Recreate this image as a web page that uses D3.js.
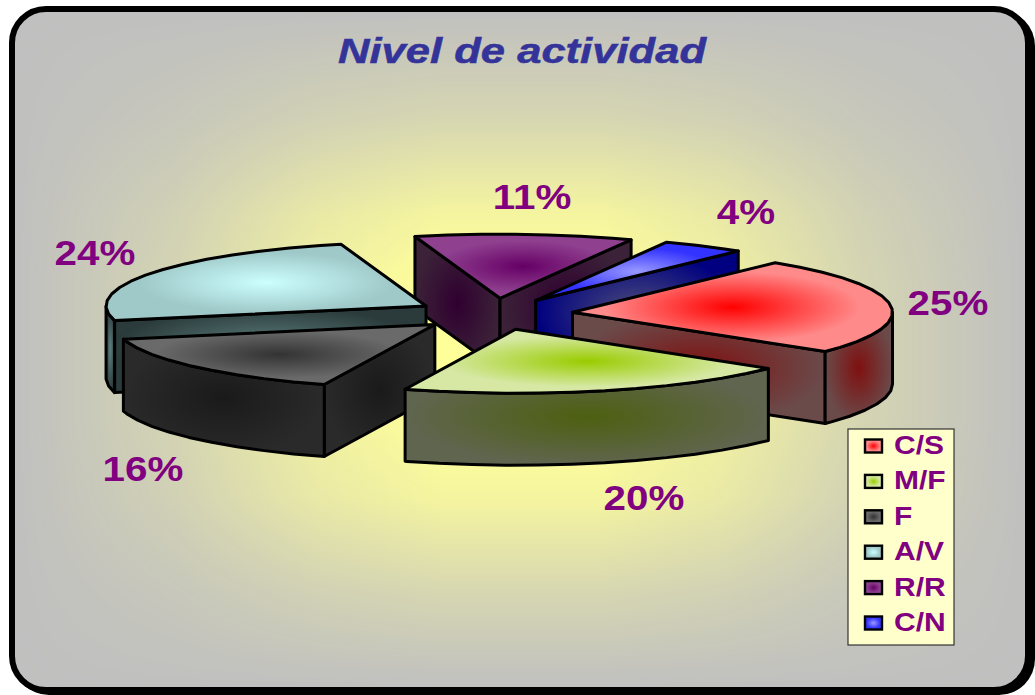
<!DOCTYPE html>
<html>
<head>
<meta charset="utf-8">
<script src="https://cdnjs.cloudflare.com/ajax/libs/d3/7.8.5/d3.min.js"></script>
<style>
  html, body { margin: 0; padding: 0; background: #fff; overflow: hidden; }
  svg { display: block; }
  text { font-family: "Liberation Sans", Arial, sans-serif; font-weight: 700; }
</style>
</head>
<body>
<div id="chart"></div>
<script>
// Chart data
const categories = ['C/S', 'M/F', 'F', 'A/V', 'R/R', 'C/N'];
const shares = [24.6, 20.1, 15.7, 24.4, 11.0, 4.2];
const chartTitle = 'Nivel de actividad';

// Face colours, same order as categories
const topCenter = ['#ff0000', '#99cc00', '#333333', '#ccffff', '#660066', '#9999ff'];
const topEdge = ['#ff8a8a', '#d6e8a4', '#6a6a6a', '#9fc8c8', '#8f408f', '#3333ff'];
const wallCenter = ['#7f1010', '#4d6010', '#1a1a1a', '#5f8080', '#300030', '#4d4d7a'];
const wallEdge = ['#6b4a4a', '#60654f', '#2a2a2a', '#2b3b3b', '#3b2238', '#000080'];

const W = 1035, H = 695;

// Pie geometry
const cx = 494, cy = 314;
const rx = 320, ry = 64;
const explode = 79;
const depth = 72;
const START = 39.3 * Math.PI / 180;

const svg = d3.select('#chart').append('svg')
  .attr('width', W)
  .attr('height', H)
  .attr('viewBox', [0, 0, W, H]);

const defs = svg.append('defs');

// Background: grey going to pale yellow in the middle
const bgH = defs.append('linearGradient').attr('id', 'bgH');
bgH.selectAll('stop')
  .data([[0, 0], [0.16, 0.33], [0.3, 0.78], [0.42, 1], [0.58, 1], [0.7, 0.78], [0.84, 0.33], [1, 0]])
  .enter().append('stop')
  .attr('offset', d => d[0])
  .attr('stop-color', '#ffff99')
  .attr('stop-opacity', d => d[1]);

const bgV = defs.append('linearGradient').attr('id', 'bgV')
  .attr('x1', 0).attr('y1', 0).attr('x2', 0).attr('y2', 1);
bgV.selectAll('stop')
  .data([[0, '#000'], [0.16, '#5c5c5c'], [0.3, '#d5d5d5'], [0.4, '#fff'], [0.6, '#fff'], [0.72, '#d5d5d5'], [0.86, '#5c5c5c'], [1, '#000']])
  .enter().append('stop')
  .attr('offset', d => d[0])
  .attr('stop-color', d => d[1]);

defs.append('mask').attr('id', 'bgMask')
  .attr('maskUnits', 'userSpaceOnUse')
  .attr('x', 0).attr('y', 0).attr('width', W).attr('height', H)
  .append('rect')
  .attr('x', 15).attr('y', 12).attr('width', 1010).attr('height', 675)
  .attr('fill', 'url(#bgV)');

// Shadow, frame and fill
svg.append('rect')
  .attr('x', 13).attr('y', 10).attr('width', 1022).attr('height', 685)
  .attr('rx', 36).attr('fill', '#000');
svg.append('rect')
  .attr('x', 12).attr('y', 9).attr('width', 1016).attr('height', 681)
  .attr('rx', 34).attr('fill', '#c0c0c0')
  .attr('stroke', '#000').attr('stroke-width', 6);
svg.append('rect')
  .attr('x', 15).attr('y', 12).attr('width', 1010).attr('height', 675)
  .attr('rx', 32).attr('fill', 'url(#bgH)')
  .attr('mask', 'url(#bgMask)');

// Face gradients
function addGradient(id, center, edge, r) {
  const grad = defs.append('radialGradient').attr('id', id)
    .attr('cx', '50%').attr('cy', '50%').attr('r', r);
  grad.append('stop').attr('offset', '0%').attr('stop-color', center);
  grad.append('stop').attr('offset', '100%').attr('stop-color', edge);
}
categories.forEach((c, i) => {
  addGradient('top-' + i, topCenter[i], topEdge[i], '40%');
  addGradient('wall-' + i, wallCenter[i], wallEdge[i], '50%');
});

// Slices
const arcs = d3.pie().sort(null)
  .startAngle(START).endAngle(START + 2 * Math.PI)(shares);

const line = d3.line();

function rim(apex, a) {
  return [apex[0] + rx * Math.sin(a), apex[1] - ry * Math.cos(a)];
}

function arcPoints(apex, a0, a1) {
  const step = 6 * Math.PI / 180;
  const angles = d3.range(a0, a1, step).concat([a1]);
  return angles.map(a => rim(apex, a));
}

function drop(p) {
  return [p[0], p[1] + depth];
}

const slices = arcs.map((d, i) => {
  const mid = (d.startAngle + d.endAngle) / 2;
  const apex = [
    cx + explode * Math.sin(mid),
    cy - explode * (ry / rx) * Math.cos(mid)
  ];
  return { i, mid, apex, a0: d.startAngle, a1: d.endAngle };
});

// Painter's order, back to front
const ordered = d3.sort(slices, (a, b) => d3.descending(Math.cos(a.mid), Math.cos(b.mid)));

const pieGroup = svg.append('g').attr('class', 'pie')
  .attr('stroke', '#000')
  .attr('stroke-width', 3)
  .attr('stroke-linejoin', 'round');

ordered.forEach(s => {
  const g = pieGroup.append('g');
  const wallFill = `url(#wall-${s.i})`;
  const inner = rim(s.apex, s.mid);

  // Radial walls, only if they face the viewer
  [s.a0, s.a1].forEach(a => {
    const p = rim(s.apex, a);
    const dx = p[0] - s.apex[0], dy = p[1] - s.apex[1];
    const cross = dx * (inner[1] - s.apex[1]) - dy * (inner[0] - s.apex[0]);
    if (cross * dx < 0) {
      g.append('path')
        .attr('d', line([s.apex, p, drop(p), drop(s.apex)]) + 'Z')
        .attr('fill', wallFill);
    }
  });

  // Outer wall, front half of the ellipse only
  const f0 = Math.max(s.a0, Math.PI / 2);
  const f1 = Math.min(s.a1, 3 * Math.PI / 2);
  if (f1 > f0) {
    const upper = arcPoints(s.apex, f0, f1);
    const lower = upper.map(drop).reverse();
    g.append('path')
      .attr('d', line(upper.concat(lower)) + 'Z')
      .attr('fill', wallFill);
  }

  // Top face
  g.append('path')
    .attr('d', line([s.apex].concat(arcPoints(s.apex, s.a0, s.a1))) + 'Z')
    .attr('fill', `url(#top-${s.i})`);
});

// Title
svg.append('text')
  .attr('x', 522).attr('y', 63)
  .attr('text-anchor', 'middle')
  .attr('font-size', 35)
  .attr('font-style', 'italic')
  .attr('fill', '#333399')
  .attr('stroke', '#333399')
  .attr('stroke-width', 0.5)
  .attr('textLength', 368)
  .attr('lengthAdjust', 'spacingAndGlyphs')
  .text(chartTitle);

// Percent labels (text anchor spots in pixels)
const labelSpots = [[948, 315], [644, 510], [143, 481], [95, 265], [532, 209], [746, 224]];
svg.append('g').attr('class', 'labels')
  .selectAll('text')
  .data(shares)
  .enter().append('text')
  .attr('x', 0).attr('y', 0)
  .attr('transform', (d, i) => `translate(${labelSpots[i][0]},${labelSpots[i][1]}) scale(1.17,1)`)
  .attr('text-anchor', 'middle')
  .attr('font-size', 34.5)
  .attr('fill', '#800080')
  .text(d => Math.round(d) + '%');

// Legend
const legend = svg.append('g').attr('class', 'legend');
legend.append('rect')
  .attr('x', 848).attr('y', 429).attr('width', 106).attr('height', 216)
  .attr('fill', '#ffffcc')
  .attr('stroke', '#333')
  .attr('stroke-width', 1.2);

const legendY = d3.scalePoint().domain(categories).range([446, 623]);
const rows = legend.selectAll('g')
  .data(categories)
  .enter().append('g')
  .attr('transform', d => `translate(0,${legendY(d)})`);
rows.append('rect')
  .attr('x', 865).attr('y', -6.5).attr('width', 17).attr('height', 13)
  .attr('fill', (d, i) => `url(#top-${i})`)
  .attr('stroke', '#000')
  .attr('stroke-width', 2.4);
rows.append('text')
  .attr('x', 0).attr('y', 0)
  .attr('transform', 'translate(894,8) scale(1.2,1)')
  .attr('font-size', 25)
  .attr('fill', '#800080')
  .text(d => d);
</script>
</body>
</html>
